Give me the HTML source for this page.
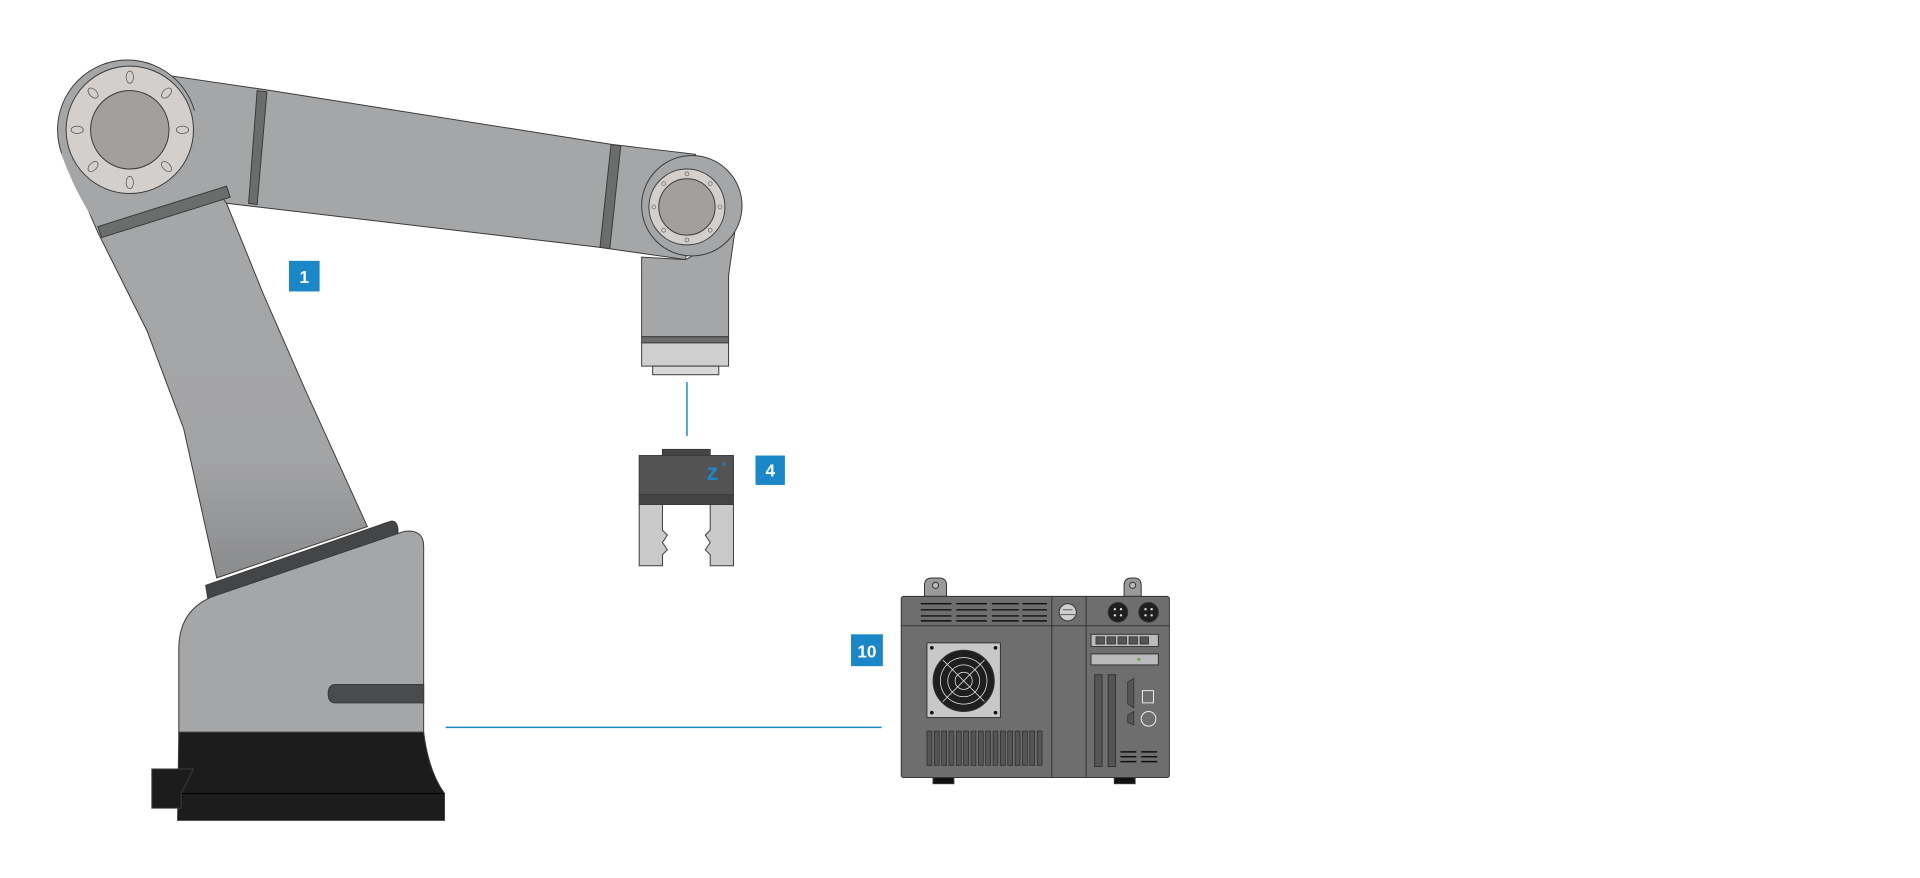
<!DOCTYPE html>
<html><head><meta charset="utf-8"><style>
html,body{margin:0;padding:0;background:#fff;}
svg{display:block}
text{font-family:"Liberation Sans",sans-serif;font-weight:bold;fill:#fff}
</style></head><body>
<svg width="1920" height="878" viewBox="0 0 1568 717" xmlns="http://www.w3.org/2000/svg">
<defs>
<linearGradient id="la" x1="0" y1="0" x2="0" y2="1">
<stop offset="0" stop-color="#a6a7a9"/><stop offset="0.75" stop-color="#a3a4a6"/><stop offset="1" stop-color="#8a8b8d"/></linearGradient>
</defs>
<g stroke="#3a3a3a" stroke-width="0.8">
<path d="M52,125 L80,190 L120,270 L150,350 L177,472 L300,430 L250,320 L215,240 L185,166 L150,80 Z" fill="url(#la)"/>
<path d="M140,62 L215,73 L500,118 L568,126 L560,212 L490,202 L185,166 L150,120 Z" fill="#a5a6a8"/>
<circle cx="104" cy="106" r="57" fill="#a5a6a8"/>
<path d="M50,125 Q60,155 80,185 L185,154 L160,90 Z" fill="#a5a6a8" stroke="none"/>
<circle cx="106" cy="106" r="52" fill="#d2cfcd"/>
<circle cx="106" cy="106" r="32" fill="#a39f9d"/>
<path d="M80,185 L185,152 L188,161 L83,194 Z" fill="#6b6c6c"/>
<path d="M210,74 L218,75 L210,167 L203,166 Z" fill="#6b6c6c"/>
<path d="M499,118 L507,119 L498,203 L490,202 Z" fill="#6b6c6c"/>
<path d="M524,210 L524,275 L595,275 L595,225 L600,190 L560,212 Z" fill="#a5a6a8"/>
<circle cx="565" cy="168" r="41" fill="#a5a6a8"/>
<circle cx="561" cy="169" r="31" fill="#d2cfcd"/>
<circle cx="561" cy="169" r="23" fill="#a39f9d"/>
<rect x="524" y="275" width="71" height="5" fill="#6b6c6c"/>
<rect x="524" y="280" width="71" height="19" fill="#cfcfcf"/>
<rect x="533" y="299" width="54" height="7" fill="#d8d8d8"/>
<path d="M168,478 L318,426 Q324,424 325,432 L325,437 L170,491 Z" fill="#444547"/>
<path d="M146,598 L146,530 Q146,495 180,485 L330,434 Q346,432 346,446 L346,598 Z" fill="#a5a6a8"/>
<path d="M274,559 L346,559 L346,574 L274,574 Q268,574 268,566.5 Q268,559 274,559 Z" fill="#4a4b4d"/>
<path d="M146,598 L346,598 Q350,630 363,648 L363,670 L145,670 Z" fill="#1c1c1c"/>
<line x1="145" y1="648" x2="363" y2="648" stroke="#000"/>
<path d="M124,628 L158,628 L148,648 L148,660 L124,660 Z" fill="#1c1c1c"/>
<rect x="541" y="367" width="39" height="5" fill="#444"/>
<rect x="522" y="372" width="77" height="32" fill="#535353"/>
<rect x="522" y="404" width="77" height="8" fill="#444"/>
<path d="M522,412 L541,412 L541,433 L545,437 L541,443 L545,449 L541,453 L541,462 L522,462 Z" fill="#c9c9c9"/>
<path d="M599,412 L580,412 L580,433 L576,437 L580,443 L576,449 L580,453 L580,462 L599,462 Z" fill="#c9c9c9"/>
</g>
<g fill="#d2cfcd" stroke="#555" stroke-width="0.6">
<ellipse cx="106" cy="63" rx="3" ry="5"/><ellipse cx="106" cy="149" rx="3" ry="5"/>
<ellipse cx="63" cy="106" rx="5" ry="3"/><ellipse cx="149" cy="106" rx="5" ry="3"/>
<ellipse cx="76" cy="76" rx="3" ry="5" transform="rotate(-45 76 76)"/><ellipse cx="136" cy="76" rx="3" ry="5" transform="rotate(45 136 76)"/>
<ellipse cx="76" cy="136" rx="3" ry="5" transform="rotate(45 76 136)"/><ellipse cx="136" cy="136" rx="3" ry="5" transform="rotate(-45 136 136)"/>
</g>
<g fill="#d2cfcd" stroke="#555" stroke-width="0.5">
<circle cx="561" cy="142" r="1.6"/><circle cx="561" cy="196" r="1.6"/><circle cx="534" cy="169" r="1.6"/><circle cx="588" cy="169" r="1.6"/>
<circle cx="542" cy="150" r="1.6"/><circle cx="580" cy="150" r="1.6"/><circle cx="542" cy="188" r="1.6"/><circle cx="580" cy="188" r="1.6"/>
</g>
<text x="577" y="392" font-size="19" style="fill:#1a87c9">z</text>
<circle cx="591" cy="379" r="1.2" fill="#1a87c9"/>
<line x1="561" y1="312" x2="561" y2="356" stroke="#1a87c9" stroke-width="1.2"/>
<line x1="364" y1="594" x2="720" y2="594" stroke="#1a87c9" stroke-width="1.2"/>
<rect x="236" y="213" width="25" height="25" fill="#1a87c9"/><text x="248.5" y="231" font-size="14" text-anchor="middle">1</text>
<rect x="617" y="372" width="24" height="24" fill="#1a87c9"/><text x="629" y="389" font-size="14" text-anchor="middle">4</text>
<rect x="695" y="518" width="26" height="26" fill="#1a87c9"/><text x="708" y="537" font-size="14" text-anchor="middle">10</text>
<g stroke="#333" stroke-width="0.8">
<path d="M755,487 L755,478 Q755,472 761,472 L767,472 Q773,472 773,478 L773,487 Z" fill="#9a9a9a"/>
<path d="M918,487 L918,478 Q918,472 924,472 L926,472 Q932,472 932,478 L932,487 Z" fill="#9a9a9a"/>
<circle cx="764" cy="478" r="2.5" fill="#bbb"/><circle cx="925" cy="478" r="2.5" fill="#bbb"/>
<rect x="736" y="487" width="219" height="148" rx="2" fill="#6e6e6e"/>
<line x1="859" y1="487" x2="859" y2="635"/><line x1="887" y1="487" x2="887" y2="635"/>
<line x1="736" y1="511" x2="955" y2="511"/>
<rect x="762" y="635" width="17" height="5" fill="#111"/><rect x="910" y="635" width="17" height="5" fill="#111"/>
<rect x="757" y="525" width="60" height="61" fill="#c8c8c8"/>
<circle cx="787" cy="556" r="25" fill="#1f1f1f"/>
<circle cx="872" cy="500" r="7" fill="#cfcfcf"/>
<circle cx="913" cy="500" r="8" fill="#1f1f1f"/><circle cx="938" cy="500" r="8" fill="#1f1f1f"/>
<rect x="891" y="518" width="55" height="10" fill="#bbb"/>
<rect x="891" y="534" width="55" height="9" fill="#bbb"/>
<rect x="894" y="551" width="6" height="75" fill="#555"/>
<rect x="905" y="551" width="6" height="75" fill="#555"/>
<circle cx="938" cy="587" r="6" fill="#6e6e6e" stroke="#eee"/>
<rect x="933" y="564" width="9" height="10" fill="#6e6e6e" stroke="#eee"/>
</g>
<g fill="#ddd">
<circle cx="910.5" cy="497.5" r="1"/><circle cx="915.5" cy="497.5" r="1"/><circle cx="910.5" cy="502.5" r="1"/><circle cx="915.5" cy="502.5" r="1"/>
<circle cx="935.5" cy="497.5" r="1"/><circle cx="940.5" cy="497.5" r="1"/><circle cx="935.5" cy="502.5" r="1"/><circle cx="940.5" cy="502.5" r="1"/>
<circle cx="930" cy="538.5" r="1.3" fill="#6a4"/>
</g>
<g fill="none" stroke="#eee" stroke-width="0.6">
<circle cx="787" cy="556" r="19"/><circle cx="787" cy="556" r="13"/><circle cx="787" cy="556" r="7"/>
<line x1="770" y1="539" x2="804" y2="573"/><line x1="804" y1="539" x2="770" y2="573"/>
<line x1="868" y1="498" x2="876" y2="498" stroke="#333"/><line x1="866" y1="502" x2="878" y2="502" stroke="#333"/>
</g>
<g fill="#111">
<circle cx="761" cy="529" r="1.5"/><circle cx="813" cy="529" r="1.5"/><circle cx="761" cy="582" r="1.5"/><circle cx="813" cy="582" r="1.5"/>
</g>
<g stroke="#111" stroke-width="1.2">
<path d="M752,493h25M752,498h25M752,503h25M752,507h25M781,493h25M781,498h25M781,503h25M781,507h25M810,493h22M810,498h22M810,503h22M810,507h22M835,493h20M835,498h20M835,503h20M835,507h20"/>
<path d="M915,614h13M915,618h13M915,622h13M932,614h13M932,618h13M932,622h13"/>
</g>
<g fill="#555" stroke="#222" stroke-width="0.5">
<rect x="757" y="597" width="4" height="28"/><rect x="763" y="597" width="4" height="28"/><rect x="769" y="597" width="4" height="28"/><rect x="775" y="597" width="4" height="28"/><rect x="781" y="597" width="4" height="28"/><rect x="787" y="597" width="4" height="28"/><rect x="793" y="597" width="4" height="28"/><rect x="799" y="597" width="4" height="28"/><rect x="805" y="597" width="4" height="28"/><rect x="811" y="597" width="4" height="28"/><rect x="817" y="597" width="4" height="28"/><rect x="823" y="597" width="4" height="28"/><rect x="829" y="597" width="4" height="28"/><rect x="835" y="597" width="4" height="28"/><rect x="841" y="597" width="4" height="28"/><rect x="847" y="597" width="4" height="28"/>
<rect x="895" y="520" width="7" height="6"/><rect x="904" y="520" width="7" height="6"/><rect x="913" y="520" width="7" height="6"/><rect x="922" y="520" width="7" height="6"/><rect x="931" y="520" width="7" height="6"/>
<path d="M921,557 L926,554 L926,578 L921,575 Z"/><path d="M921,584 L926,581 L926,592 L921,590 Z"/>
</g>
</svg>
</body></html>
